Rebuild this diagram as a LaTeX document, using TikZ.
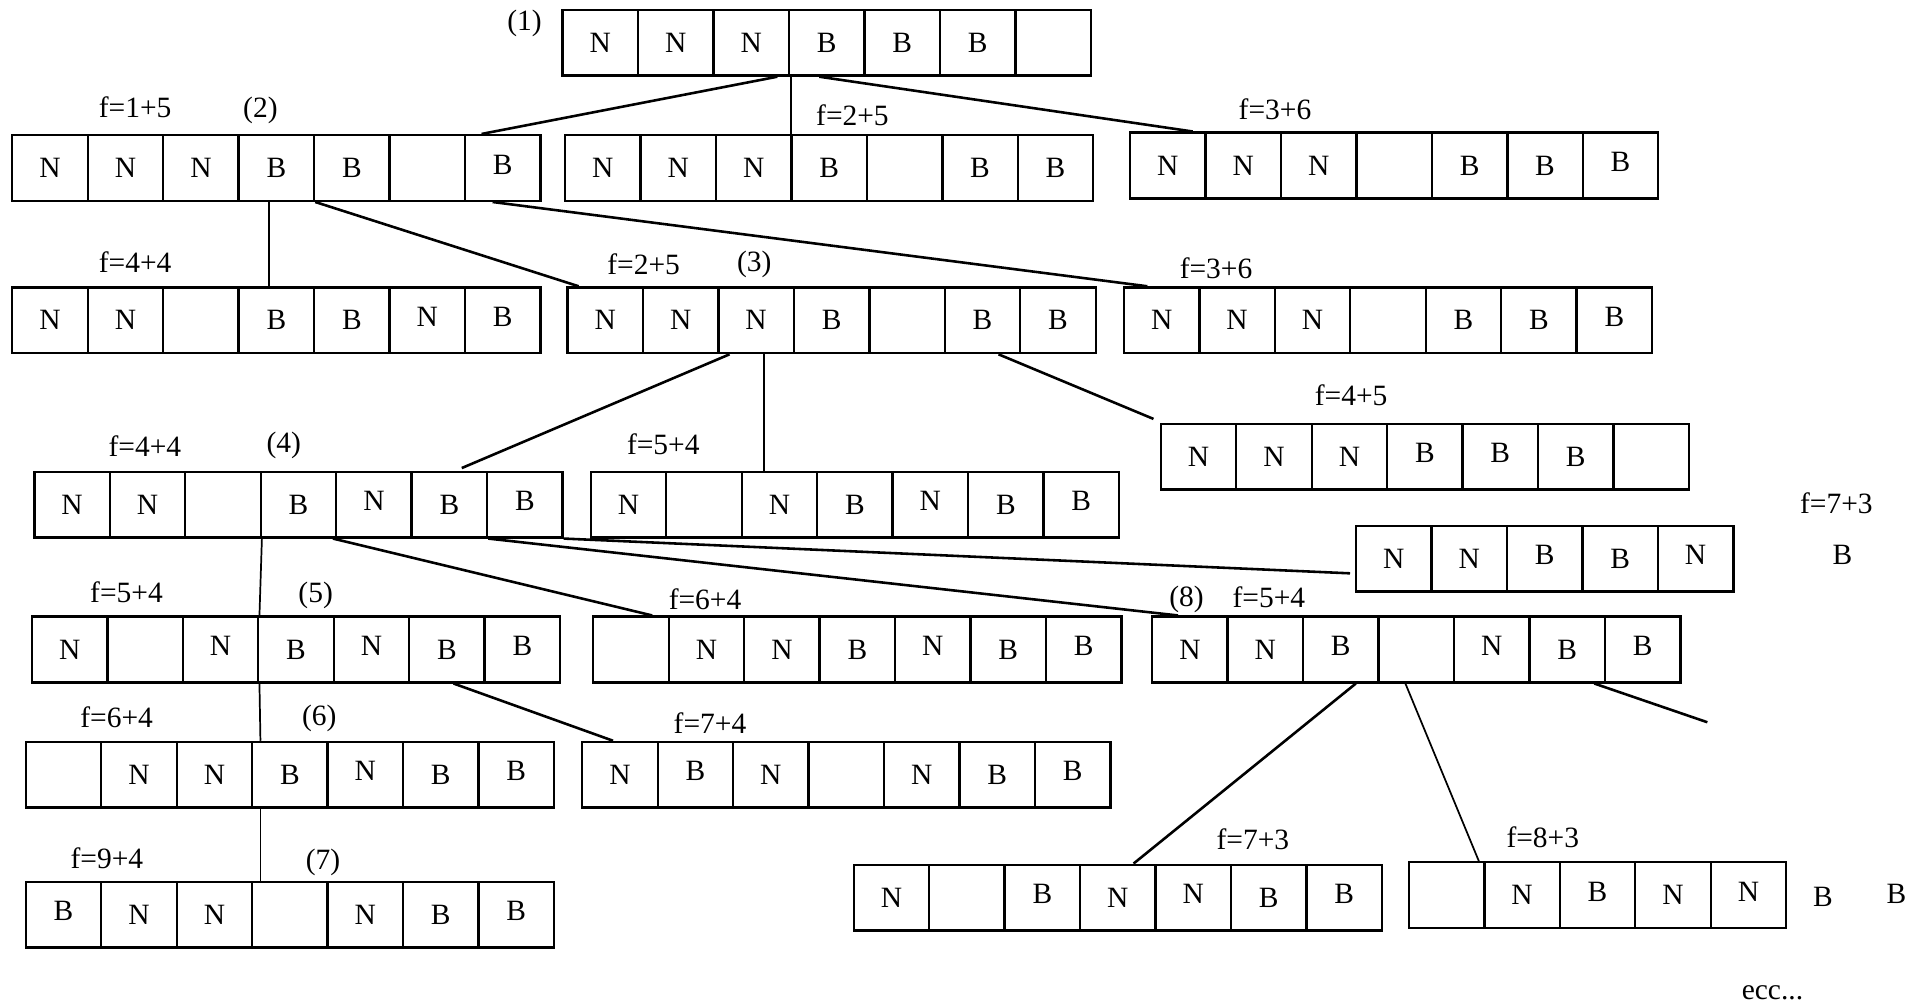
\documentclass[tikz,border=0pt]{standalone}
\usepackage{fontspec}
\setmainfont{Liberation Serif}
\usetikzlibrary{positioning,calc}

% one row of cells: name, left x, top y, cell texts
\newcommand{\cellrow}[4]{%
  \foreach \val [count=\i] in {#4}
    \node[cell] (#1-\i) at ({#2+61.43*\i-30.715},{#3+26.75}) {\val};
}
% letter set a little higher in its cell
\newcommand{\up}[1]{\raisebox{1.4pt}[\height][\depth]{#1}}

\begin{document}
\begin{tikzpicture}[
 x=0.5pt,y=-0.5pt,
 font=\fontsize{12}{14}\selectfont,
 cell/.style={draw,line width=0.95pt,minimum width=30.7pt,minimum height=26.75pt,inner sep=0pt},
 tag/.style={inner sep=1pt},
 link/.style={line width=1.05pt},
 thinlink/.style={line width=0.7pt}
]
\useasboundingbox (0,0) rectangle (1568,820);

% states
\cellrow{r1}{458}{8}{N,N,N,B,B,B,{}}
\cellrow{r2a}{10}{110}{N,N,N,B,B,{},\up{B}}
\cellrow{r2b}{460}{110}{N,N,N,B,{},B,B}
\cellrow{r2c}{920}{108}{N,N,N,{},B,B,\up{B}}
\cellrow{r3a}{10}{234}{N,N,{},B,B,\up{N},\up{B}}
\cellrow{r3b}{462}{234}{N,N,N,B,{},B,B}
\cellrow{r3c}{915}{234}{N,N,N,{},B,B,\up{B}}
\cellrow{r4}{945}{345}{N,N,N,\up{B},\up{B},B,{}}
\cellrow{r5a}{28}{384}{N,N,{},B,\up{N},B,\up{B}}
\cellrow{r5b}{481}{384}{N,{},N,B,\up{N},B,\up{B}}
\cellrow{r6}{1104}{428}{N,N,\up{B},B,\up{N}}
\cellrow{r7a}{26}{502}{N,{},\up{N},B,\up{N},B,\up{B}}
\cellrow{r7b}{483}{502}{{},N,N,B,\up{N},B,\up{B}}
\cellrow{r7c}{938}{502}{N,N,\up{B},{},\up{N},B,\up{B}}
\cellrow{r8a}{21}{604}{{},N,N,B,\up{N},B,\up{B}}
\cellrow{r8b}{474}{604}{N,\up{B},N,{},N,B,\up{B}}
\cellrow{r9a}{21}{718}{\up{B},N,N,{},N,B,\up{B}}
\cellrow{r9b}{695}{704}{N,{},\up{B},N,\up{N},B,\up{B}}
\cellrow{r9c}{1147}{702}{{},N,\up{B},N,\up{N}}

% labels
\node[tag] (n1) at (427,19) {(1)};
\node[tag] (f2a) at (110,87) {f=1+5};
\node[tag] (n2) at (212,90) {(2)};
\node[tag] (f2b) at (694,94) {f=2+5};
\node[tag] (f2c) at (1038,89) {f=3+6};
\node[tag] (f3a) at (110,213) {f=4+4};
\node[tag] (f3b) at (524,215) {f=2+5};
\node[tag] (n3) at (614,215) {(3)};
\node[tag] (f3c) at (990,218) {f=3+6};
\node[tag] (f4) at (1100,322) {f=4+5};
\node[tag] (f5a) at (118,363) {f=4+4};
\node[tag] (n4) at (231,363) {(4)};
\node[tag] (f5b) at (540,362) {f=5+4};
\node[tag] (f6) at (1495,410) {f=7+3};
\node[tag] (b6) at (1500,452) {B};
\node[tag] (f7a) at (103,482) {f=5+4};
\node[tag] (n5) at (257,485) {(5)};
\node[tag] (f7b) at (574,488) {f=6+4};
\node[tag] (n8) at (966,488) {(8)};
\node[tag] (f7c) at (1033,486) {f=5+4};
\node[tag] (f8a) at (95,584) {f=6+4};
\node[tag] (n6) at (260,585) {(6)};
\node[tag] (f8b) at (578,589) {f=7+4};
\node[tag] (f9a) at (87,699) {f=9+4};
\node[tag] (n7) at (263,702) {(7)};
\node[tag] (f9b) at (1020,683) {f=7+3};
\node[tag] (f9c) at (1256,682) {f=8+3};
\node[tag] (b9a) at (1484,730) {B};
\node[tag] (b9b) at (1544,728) {B};
\node[tag] (ecc) at (1443,808) {ecc...};

% branches
\draw[link] ([xshift=-5.2pt]r1-3.south east) -- ([xshift=7.2pt]r2a-7.north west);
\draw[thinlink] ([xshift=1.35pt]r1-4.south west) -- ([xshift=0.35pt]r2b-4.north west);
\draw[link] ([xshift=12.8pt]r1-4.south west) -- ([xshift=-5.7pt]r2c-1.north east);
\draw[thinlink] ([xshift=12.8pt]r2a-4.south west) -- ([xshift=12.8pt]r3a-4.north west);
\draw[link] (r2a-4.south east) -- ([xshift=5pt]r3b-1.north west);
\draw[link] ([xshift=11.7pt]r2a-7.south west) -- ([xshift=10pt]r3c-1.north west);
\draw[link] ([xshift=5pt]r3b-3.south west) -- ([xshift=-10.8pt,yshift=1pt]r5a-6.north east);
\draw[thinlink] ([xshift=19pt]r3b-3.south west) -- ([xshift=9.5pt]r5b-3.north west);
\draw[link] ([xshift=-9.3pt]r3b-6.south east) -- ([xshift=-2.5pt,yshift=1.5pt]r4-1.north west);
\draw[thinlink] (r5a-3.south east) -- (r7a-3.north east);
\draw[thinlink] (r7a-3.south east) -- ([xshift=2.9pt]r8a-3.north east);
\draw[thinlink] ([xshift=2.9pt]r8a-3.south east) -- ([xshift=2.9pt]r9a-3.north east);
\draw[link] ([xshift=-1.8pt]r5a-4.south east) -- ([xshift=-7.2pt]r7b-1.north east);
\draw[link] (r5a-6.south east) -- ([xshift=11pt]r7c-1.north west);
\draw[link] (r5a-7.south east) -- ([xshift=-2pt,yshift=-6pt]r6-1.west);
\draw[link] ([xshift=18.5pt]r7a-6.south west) -- ([xshift=13pt]r8b-1.north west);
\draw[link] ([xshift=-9.7pt]r7c-3.south east) -- ([xshift=-9.4pt]r9b-4.north east);
\draw[thinlink] ([xshift=11.4pt]r7c-4.south west) -- ([xshift=-2.7pt]r9c-1.north east);
\coordinate (cut) at (1390,588);
\draw[link] ([xshift=-4.8pt]r7c-6.south east) -- (cut);
\end{tikzpicture}
\end{document}
